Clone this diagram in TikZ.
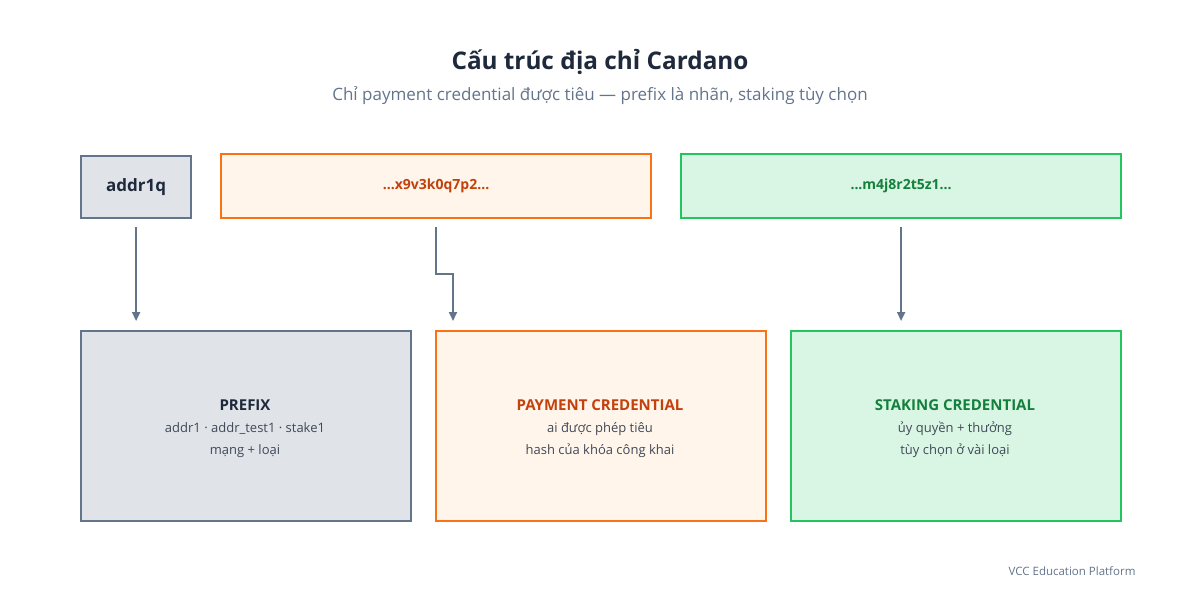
\documentclass[tikz,border=0pt]{standalone}
\usepackage{fontspec}
\setmainfont{Open Sans}
\usetikzlibrary{arrows.meta}
\definecolor{slate}{HTML}{64748B}
\definecolor{dark}{HTML}{1E293B}
\definecolor{orng}{HTML}{F97316}
\definecolor{orngT}{HTML}{C2410C}
\definecolor{grn}{HTML}{22C55E}
\definecolor{grnT}{HTML}{15803D}
\begin{document}
\begin{tikzpicture}[x=1pt,y=-1pt,
  box/.style={draw, line width=2.2pt, inner sep=0pt, anchor=north west},
  gray/.style={box, draw=slate, fill=slate!20},
  org/.style={box, draw=orng, fill=orange!8},
  gr/.style={box, draw=grn, fill=grn!17},
  arr/.style={draw=slate, line width=1.8pt, -{Triangle[length=9pt,width=8pt]}, shorten <=8pt, shorten >=9pt},
  btitle/.style={font=\bfseries\fontsize{15}{18}\selectfont},
  bline/.style={font=\fontsize{13}{16}\selectfont, text=dark!85}]
\useasboundingbox (0,0) rectangle (1200,600);
\fill[white] (0,0) rectangle (1200,600);
\node[font=\bfseries\fontsize{24.3}{28}\selectfont, text=dark] (title) at (600,62) {Cấu trúc địa chỉ Cardano};
\node[font=\fontsize{17}{20}\selectfont, text=slate] (sub) at (600,96) {Chỉ payment credential được tiêu — prefix là nhãn, staking tùy chọn};
\node[gray, minimum width=110pt, minimum height=62pt] (addr) at (80,155) {};
\node[font=\bfseries\fontsize{17}{20}\selectfont, text=dark] at (addr.center) {addr1q};
\node[org, minimum width=430pt, minimum height=64pt] (pay) at (220,153) {};
\node[font=\bfseries\fontsize{14}{17}\selectfont, text=orngT] at (pay.center) {...x9v3k0q7p2...};
\node[gr, minimum width=440pt, minimum height=64pt] (stk) at (680,153) {};
\node[font=\bfseries\fontsize{14}{17}\selectfont, text=grnT] at (stk.center) {...m4j8r2t5z1...};
\node[gray, minimum width=330pt, minimum height=190pt] (pre) at (80,330) {};
\node[org, minimum width=330pt, minimum height=190pt] (payb) at (435,330) {};
\node[gr, minimum width=330pt, minimum height=190pt] (stkb) at (790,330) {};
\node[btitle, text=dark] at (245,405) {PREFIX};
\node[bline] at (245,429) {addr1 · addr\_test1 · stake1};
\node[bline] at (245,451) {mạng + loại};
\node[btitle, text=orngT] at (600,405) {PAYMENT CREDENTIAL};
\node[bline] at (600,429) {ai được phép tiêu};
\node[bline] at (600,451) {hash của khóa công khai};
\node[btitle, text=grnT] at (955,405) {STAKING CREDENTIAL};
\node[bline] at (955,429) {ủy quyền + thưởng};
\node[bline] at (955,451) {tùy chọn ở vài loại};
\draw[arr] (addr.south) -- (addr.south |- pre.north);
\coordinate (pj) at ([xshift=18pt]payb.north west);
\draw[arr] (pay.south) -- ++(0,55) -| (pj);
\draw[arr] (stk.south) -- (stk.south |- stkb.north);
\node[anchor=east, font=\fontsize{11.5}{13}\selectfont, text=slate] (foot) at (1139,571) {VCC Education Platform};
\end{tikzpicture}
\end{document}
